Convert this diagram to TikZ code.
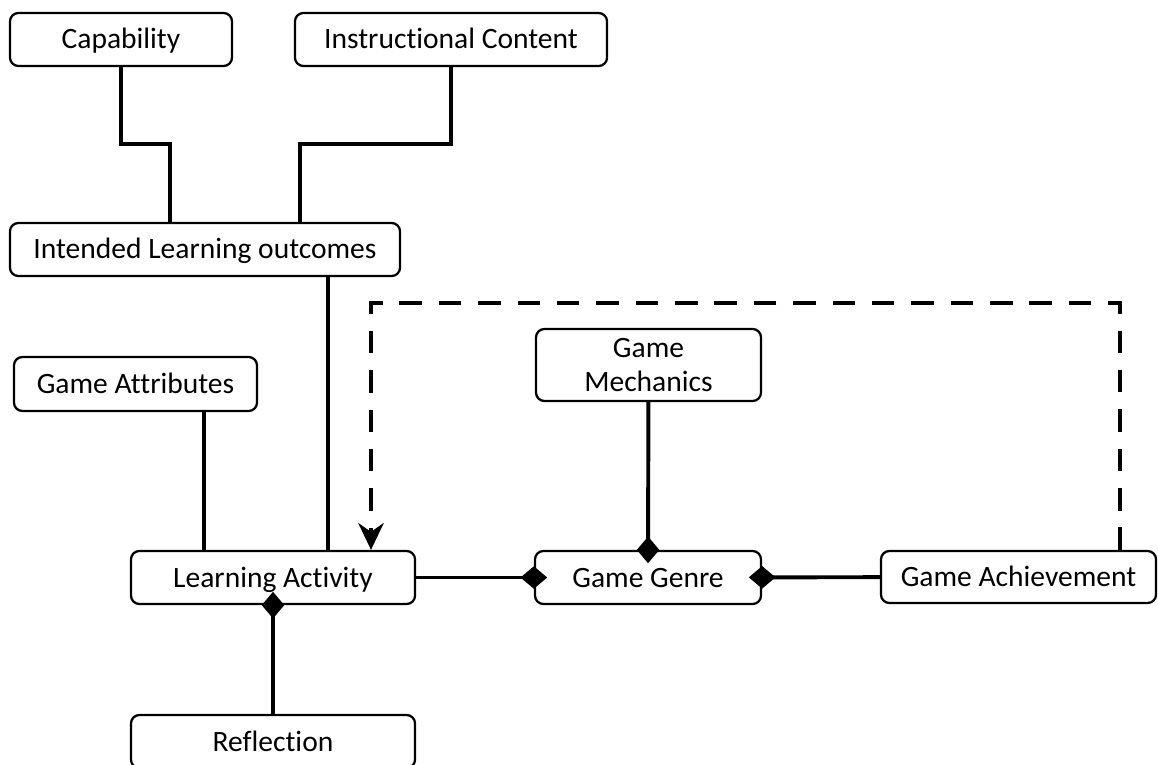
\documentclass[tikz,border=0pt]{standalone}
\usepackage{fontspec}
\setmainfont{Carlito}[Ligatures={NoCommon}]
\usetikzlibrary{arrows.meta}

\tikzset{
	box/.style={draw, line width=1.6pt, rounded corners=6pt, fill=white, align=center, inner sep=2pt, minimum height=1.325cm, text height=17pt, text depth=3.5pt, font=\fontsize{21}{24}\selectfont},
	link/.style={line width=2.8pt},
	owns/.style={link, -{Diamond[length=19pt, width=16pt]}, shorten >=-9.5pt},
	feedback/.style={line width=3.5pt, dash pattern=on 16pt off 12pt, -{Stealth[length=19pt, width=18pt]}}
}

\begin{document}
\begin{tikzpicture}[x=0.025cm, y=-0.025cm]
	\useasboundingbox (0,0) rectangle (1158,764);
	
	\node[box, minimum width=5.55cm] (cap) at (121,39.5) {Capability};
	\node[box, minimum width=7.8cm] (instr) at (451,39.5) {Instructional Content};
	\node[box, minimum width=9.75cm] (ilo) at (205,249.5) {Intended Learning outcomes};
	\node[box, minimum width=6.075cm, minimum height=1.35cm] (attr) at (135.5,384) {Game Attributes};
	\node[box, minimum width=5.625cm, minimum height=1.8cm, text height=41pt] (mech) at (648.5,365) {Game\\Mechanics};
	\node[box, minimum width=7.1cm] (act) at (273,577.5) {Learning Activity};
	\node[box, minimum width=5.65cm] (genre) at (648,577.5) {Game Genre};
	\node[box, minimum width=6.875cm, minimum height=1.3cm] (ach) at (1018.5,577) {Game Achievement};
	\node[box, minimum width=7.1cm] (refl) at (273,741.5) {Reflection};
	
	\coordinate (capbend) at (170,144);
	\coordinate (instrbend) at (300,144);
	\coordinate (ilox) at (328,0);
	\coordinate (attrx) at (204,0);
	\coordinate (loopR) at (1120,303);
	\coordinate (loopL) at (371,303);
	
	\draw[link] (cap) |- (capbend) -- (capbend |- ilo.north);
	\draw[link] (instr) |- (instrbend) -- (instrbend |- ilo.north);
	\draw[link] (ilo.south -| ilox) -- (act.north -| ilox);
	\draw[link] (attr.south -| attrx) -- (act.north -| attrx);
	
	\draw[owns] (refl) -- (act);
	\draw[owns] (act) -- (genre);
	\draw[owns] (mech) -- (genre);
	\draw[owns] (ach) -- (genre);
	
	\draw[feedback] (ach.north -| loopR) -- (loopR) -- (loopL) -- (act.north -| loopL);
\end{tikzpicture}
\end{document}
